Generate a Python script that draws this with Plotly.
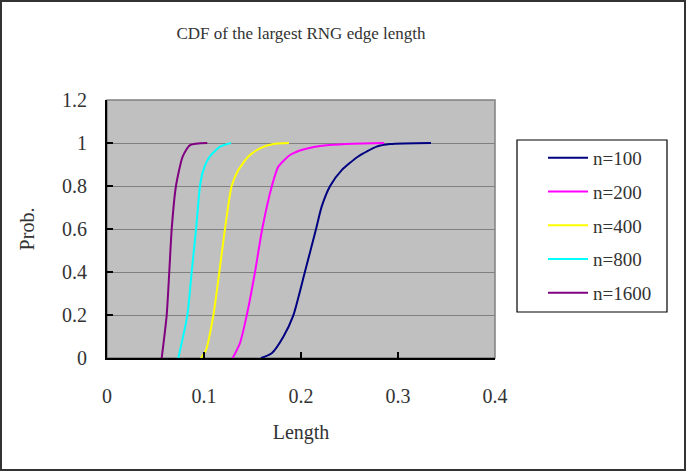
import plotly.graph_objects as go

# CDF data (x = Length, y = Prob.)
n100_x = [0.1588, 0.1698, 0.1818, 0.1920, 0.2040, 0.2155, 0.2213, 0.2300, 0.2420, 0.2590, 0.2780, 0.2920, 0.3340]
n100_y = [0.0, 0.022, 0.099, 0.197, 0.40, 0.60, 0.704, 0.80, 0.874, 0.937, 0.983, 0.995, 1.0]

n200_x = [0.1296, 0.1370, 0.1440, 0.1526, 0.1600, 0.1700, 0.1766, 0.1887, 0.2024, 0.2265, 0.2856]
n200_y = [0.0, 0.068, 0.197, 0.40, 0.60, 0.80, 0.89, 0.944, 0.97, 0.99, 1.0]

n400_x = [0.0969, 0.1020, 0.1096, 0.1158, 0.1216, 0.1285, 0.1354, 0.1457, 0.1577, 0.1715, 0.1876]
n400_y = [0.0, 0.037, 0.197, 0.40, 0.60, 0.80, 0.874, 0.937, 0.975, 0.995, 1.0]

n800_x = [0.0735, 0.0828, 0.0873, 0.0918, 0.0959, 0.0993, 0.1060, 0.1165, 0.1278]
n800_y = [0.0, 0.197, 0.40, 0.60, 0.80, 0.874, 0.937, 0.983, 1.0]

n1600_x = [0.0564, 0.0615, 0.0642, 0.0667, 0.0711, 0.0780, 0.0856, 0.1034]
n1600_y = [0.0, 0.197, 0.40, 0.60, 0.80, 0.937, 0.99, 1.0]

series_names = ["n=100", "n=200", "n=400", "n=800", "n=1600"]
series_x = [n100_x, n200_x, n400_x, n800_x, n1600_x]
series_y = [n100_y, n200_y, n400_y, n800_y, n1600_y]
colors = ["#000080", "#FF00FF", "#FFFF00", "#00FFFF", "#800080"]

x_ticks = [0, 0.1, 0.2, 0.3, 0.4]
x_tick_labels = ["0", "0.1", "0.2", "0.3", "0.4"]
y_ticks = [0, 0.2, 0.4, 0.6, 0.8, 1.0, 1.2]
y_tick_labels = ["0", "0.2", "0.4", "0.6", "0.8", "1", "1.2"]

FONT = "Liberation Serif, Times New Roman, serif"
TXT = "#333333"
W, H = 686, 471
L, R, T, B = 107, 191, 100, 113
pw, ph = W - L - R, H - T - B

fig = go.Figure()
for nm, xs, ys, c in zip(series_names, series_x, series_y, colors):
    fig.add_trace(go.Scatter(x=xs, y=ys, mode="lines", name=nm,
                             line=dict(color=c, width=2, shape="spline", smoothing=0.6),
                             legendgroup=nm))

def px_x(p):
    return (p - L) / pw

def px_y(p):
    return (H - B - p) / ph

shapes = [
    # plot area border
    dict(type="rect", xref="paper", yref="paper", x0=0, x1=1, y0=0, y1=1,
         line=dict(color="#808080", width=1.5), layer="below"),
    # legend border
    dict(type="rect", xref="paper", yref="paper", x0=px_x(517), x1=px_x(667),
         y0=px_y(312), y1=px_y(140), line=dict(color="#000000", width=1.2)),
    # outer chart border
    dict(type="rect", xref="paper", yref="paper", x0=px_x(1), x1=px_x(685),
         y0=px_y(470), y1=px_y(1), line=dict(color="#333333", width=2)),
]

fig.update_layout(
    width=W, height=H,
    margin=dict(l=L, r=R, t=T, b=B, pad=0),
    paper_bgcolor="white",
    plot_bgcolor="#C0C0C0",
    font=dict(family=FONT, size=20, color=TXT),
    title=dict(text="CDF of the largest RNG edge length", x=0.5, xref="paper",
               xanchor="center", y=1 - 33 / H, yanchor="middle",
               font=dict(family=FONT, size=17, color=TXT)),
    xaxis=dict(range=[0, 0.4], tickvals=x_ticks, ticktext=x_tick_labels,
               showgrid=False, zeroline=False, showline=True, linecolor="#000000",
               linewidth=2, ticks="inside", ticklen=6, tickwidth=1.5, tickcolor="#000000",
               ticklabelstandoff=19, tickfont=dict(family=FONT, size=20, color=TXT),
               title=dict(text="Length", standoff=19, font=dict(family=FONT, size=20, color=TXT))),
    yaxis=dict(range=[0, 1.2], tickvals=y_ticks, ticktext=y_tick_labels,
               showgrid=True, gridcolor="#808080", gridwidth=1, zeroline=False,
               showline=True, linecolor="#000000", linewidth=2,
               ticks="inside", ticklen=6, tickwidth=1.5, tickcolor="#000000",
               ticklabelstandoff=14, tickfont=dict(family=FONT, size=20, color=TXT),
               title=dict(text="Prob.", standoff=22, font=dict(family=FONT, size=20, color=TXT))),
    legend=dict(x=px_x(543), y=px_y(139), xanchor="left", yanchor="top",
                bgcolor="rgba(0,0,0,0)", borderwidth=0, tracegroupgap=6,
                itemwidth=40, font=dict(family=FONT, size=19, color=TXT)),
    shapes=shapes,
)

fig.write_html("out.html")
